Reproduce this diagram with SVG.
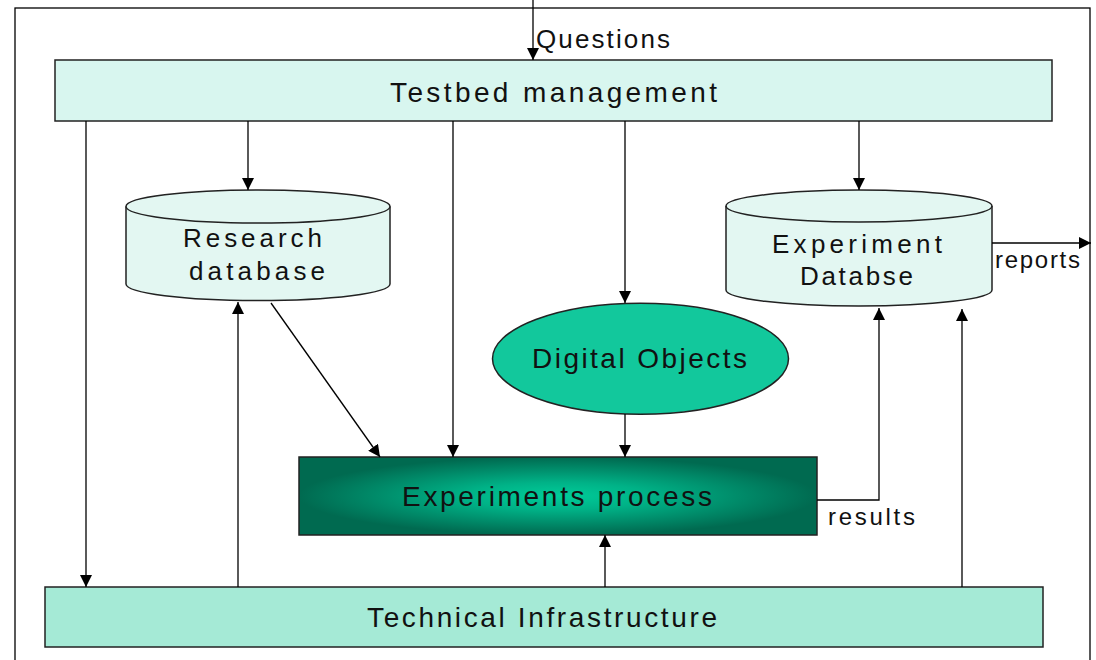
<svg xmlns="http://www.w3.org/2000/svg" width="1096" height="660" viewBox="0 0 1096 660">
<defs>
<marker id="ah" markerUnits="userSpaceOnUse" markerWidth="12" markerHeight="12" viewBox="0 0 12 12" refX="12" refY="6" orient="auto">
<path d="M0,0 L12,6 L0,12 Z" fill="#000"/>
</marker>
<radialGradient id="proc" cx="50%" cy="50%" r="50%">
<stop offset="0%" stop-color="#00cc99"/>
<stop offset="35%" stop-color="#00b287"/>
<stop offset="100%" stop-color="#006a50"/>
</radialGradient>
<style>
.t{font-family:"Liberation Sans",Arial,sans-serif;fill:#111;}
.c{stroke:#000;stroke-width:1.3;fill:none;}
.b{stroke:#222;stroke-width:1.5;}
</style>
</defs>
<rect x="15" y="8" width="1075" height="670" fill="#fff" stroke="#000" stroke-width="1.3"/>
<g id="testbed">
<rect class="b" x="55" y="60" width="997" height="61" fill="#d8f6ef"/>
<text class="t" x="390" y="101.5" font-size="28" textLength="327" lengthAdjust="spacing">Testbed management</text>
</g>
<g id="research-db">
<path class="b" d="M126,206.5 L126,284 A132,16.5 0 0 0 390,284 L390,206.5 A132,16.5 0 0 0 126,206.5 Z" fill="#e3f7f2"/>
<path class="b" d="M126,206.5 A132,16.5 0 0 0 390,206.5" fill="none"/>
<text class="t" x="183" y="246.7" font-size="26" textLength="139" lengthAdjust="spacing">Research</text>
<text class="t" x="189" y="280" font-size="26" textLength="136" lengthAdjust="spacing">database</text>
</g>
<g id="experiment-db">
<path class="b" d="M726,206 L726,290 A133,16 0 0 0 992,290 L992,206 A133,16 0 0 0 726,206 Z" fill="#e3f7f2"/>
<path class="b" d="M726,206 A133,16 0 0 0 992,206" fill="none"/>
<text class="t" x="772" y="252.5" font-size="26" textLength="170" lengthAdjust="spacing">Experiment</text>
<text class="t" x="800" y="285" font-size="26" textLength="113" lengthAdjust="spacing">Databse</text>
</g>
<g id="digital-objects">
<ellipse class="b" cx="640.5" cy="358.7" rx="148" ry="55.5" fill="#12c89c"/>
<text class="t" x="532" y="368" font-size="28" textLength="215" lengthAdjust="spacing">Digital Objects</text>
</g>
<g id="experiments-process">
<rect class="b" x="299" y="457" width="518" height="78" fill="url(#proc)"/>
<text class="t" x="402" y="506" font-size="28" textLength="310" lengthAdjust="spacing">Experiments process</text>
</g>
<g id="technical-infrastructure">
<rect class="b" x="45" y="587" width="998" height="60" fill="#a5ead6"/>
<text class="t" x="367" y="626.7" font-size="28" textLength="350" lengthAdjust="spacing">Technical Infrastructure</text>
</g>
<g id="connectors">
<path class="c" d="M533,0 L533,60" marker-end="url(#ah)"/>
<path class="c" d="M86,121 L86,587" marker-end="url(#ah)"/>
<path class="c" d="M248,121 L248,190" marker-end="url(#ah)"/>
<path class="c" d="M453,121 L453,457" marker-end="url(#ah)"/>
<path class="c" d="M625,121 L625,303" marker-end="url(#ah)"/>
<path class="c" d="M859,121 L859,190" marker-end="url(#ah)"/>
<path class="c" d="M271,303 L380,457" marker-end="url(#ah)"/>
<path class="c" d="M625,414 L625,457" marker-end="url(#ah)"/>
<path class="c" d="M238,587 L238,302" marker-end="url(#ah)"/>
<path class="c" d="M605,587 L605,535" marker-end="url(#ah)"/>
<path class="c" d="M962,587 L962,309" marker-end="url(#ah)"/>
<path class="c" d="M817,500 L879,500 L879,308" marker-end="url(#ah)"/>
<path class="c" d="M992,243 L1091,243" marker-end="url(#ah)"/>
</g>
<text class="t" x="536" y="48" font-size="26" textLength="134" lengthAdjust="spacing">Questions</text>
<text class="t" x="995" y="268" font-size="24" textLength="85" lengthAdjust="spacing">reports</text>
<text class="t" x="828" y="525" font-size="24" textLength="87" lengthAdjust="spacing">results</text>
</svg>
